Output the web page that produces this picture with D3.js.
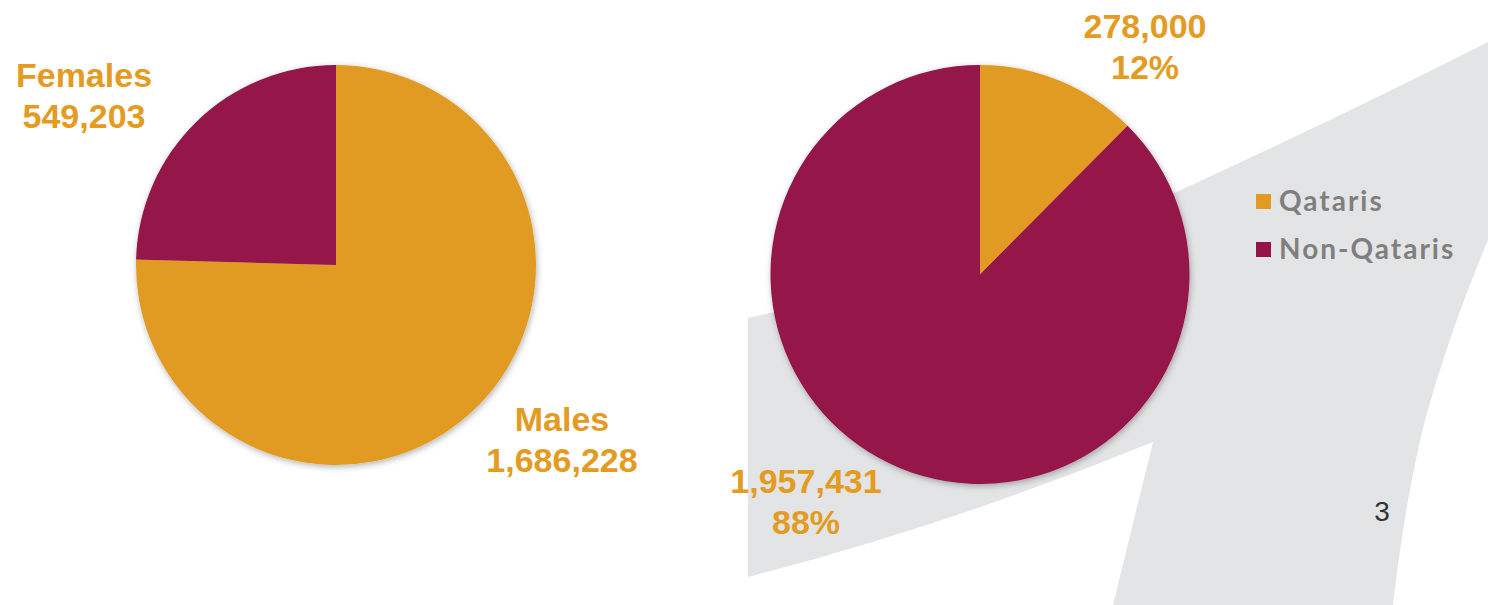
<!DOCTYPE html>
<html>
<head>
<meta charset="utf-8">
<script src="https://d3js.org/d3.v7.min.js"></script>
<style>
  body { margin: 0; background: #fff; }
  svg { display: block; }
</style>
</head>
<body>
<svg id="chart"></svg>
<script>
  // data
  var genderNames = ["Males", "Females"];
  var genderValues = [1686228, 549203];
  var nationNames = ["Qataris", "Non-Qataris"];
  var nationValues = [278000, 1957431];
  var nationPercents = ["12%", "88%"];
  var pageNumber = "3";

  var width = 1497, height = 605;
  var orange = "#e29b20", maroon = "#951248";
  var color = d3.scaleOrdinal().range([orange, maroon]);
  var fmt = d3.format(",");

  var svg = d3.select("#chart")
      .attr("width", width)
      .attr("height", height);

  // soft shadow round the pies
  var filter = svg.append("defs").append("filter")
      .attr("id", "shadow")
      .attr("x", "-10%").attr("y", "-10%")
      .attr("width", "120%").attr("height", "120%");
  filter.append("feDropShadow")
      .attr("dx", 1).attr("dy", 2)
      .attr("stdDeviation", 3)
      .attr("flood-color", "#000")
      .attr("flood-opacity", 0.3);

  // grey background swoosh (slide decoration)
  var bgPath = "M748,318" +
      "Q1050,250 1183,189" +
      "Q1350,112 1488,42" +
      "L1488,240" +
      "Q1450,330 1425,420" +
      "Q1405,500 1393,605" +
      "L1113,605" +
      "L1153,442" +
      "Q950,525 748,577Z";
  svg.append("path")
      .attr("d", bgPath)
      .attr("fill", "#e3e4e6");

  var pie = d3.pie().sort(null);

  function drawPie(values, cx, cy, r) {
    var arc = d3.arc().innerRadius(0).outerRadius(r);
    var g = svg.append("g")
        .attr("transform", "translate(" + cx + "," + cy + ")")
        .attr("filter", "url(#shadow)");
    g.selectAll("path")
        .data(pie(values))
        .join("path")
        .attr("d", arc)
        .attr("fill", function (d, i) { return color(i); });
  }

  drawPie(genderValues, 336, 265, 200);
  drawPie(nationValues, 980, 274.5, 209.5);

  // two-line labels
  function label(lines, x, y) {
    var t = svg.append("text")
        .attr("x", x)
        .attr("y", y)
        .attr("text-anchor", "middle")
        .style("font-family", "'Liberation Sans', Arial, sans-serif")
        .style("font-weight", "bold")
        .style("font-size", "34px")
        .style("fill", "#e39b22");
    t.selectAll("tspan")
        .data(lines)
        .join("tspan")
        .attr("x", x)
        .attr("dy", function (d, i) { return i ? 41 : 0; })
        .text(function (d) { return d; });
  }

  label([genderNames[1], fmt(genderValues[1])], 84, 87);
  label([genderNames[0], fmt(genderValues[0])], 562, 431);
  label([fmt(nationValues[0]), nationPercents[0]], 1145, 38);
  label([fmt(nationValues[1]), nationPercents[1]], 806, 493);

  // legend
  var legend = svg.append("g")
      .selectAll("g")
      .data(nationNames)
      .join("g")
      .attr("transform", function (d, i) { return "translate(1256," + (194 + i * 48) + ")"; });
  legend.append("rect")
      .attr("width", 15)
      .attr("height", 15)
      .attr("fill", function (d, i) { return color(i); });
  legend.append("text")
      .attr("x", 23)
      .attr("y", 17)
      .style("font-family", "Lato, 'Open Sans', sans-serif")
      .style("font-weight", "bold")
      .style("font-size", "28px")
      .style("letter-spacing", "2px")
      .style("fill", "#7f7f7f")
      .text(function (d) { return d; });

  // page number
  svg.append("text")
      .attr("x", 1382)
      .attr("y", 521)
      .attr("text-anchor", "middle")
      .style("font-family", "'Liberation Sans', Arial, sans-serif")
      .style("font-size", "28px")
      .style("fill", "#333")
      .text(pageNumber);
</script>
</body>
</html>
